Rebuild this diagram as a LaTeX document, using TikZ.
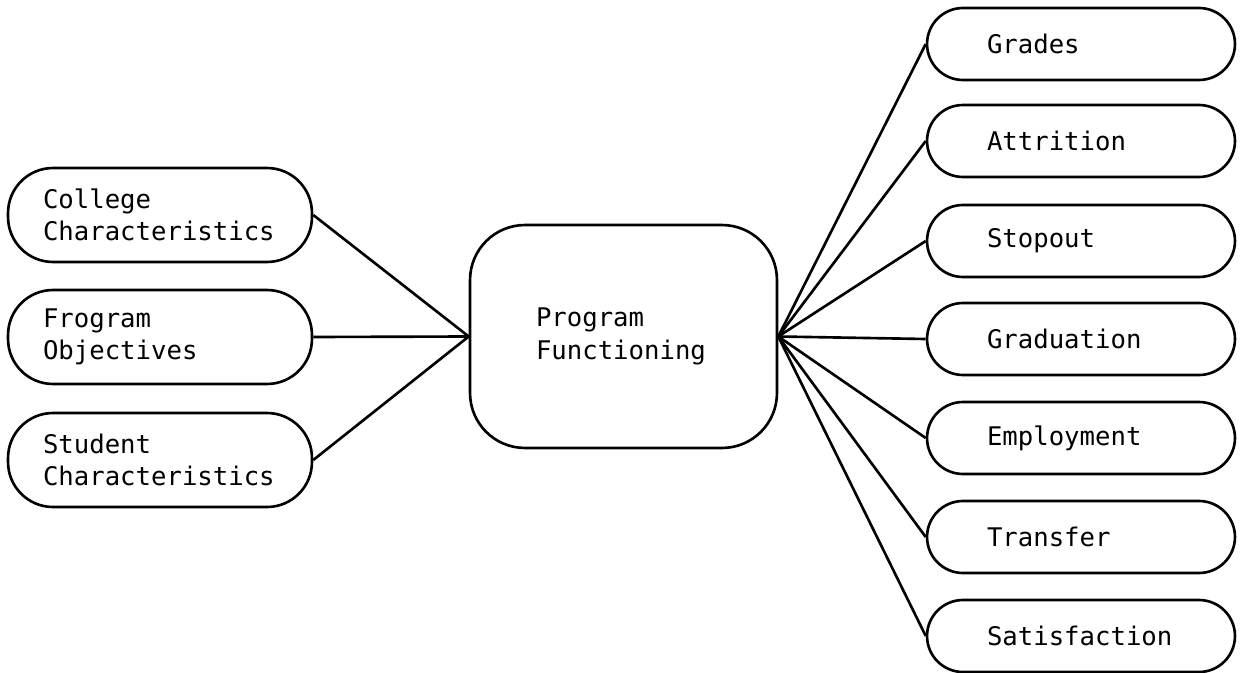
\documentclass[tikz,border=0pt]{standalone}
\usepackage{fontspec}
\newfontfamily\plotfont{DejaVu Sans Mono}
\usetikzlibrary{positioning}

\begin{document}
\begin{tikzpicture}[x=0.02cm, y=-0.02cm,
    every node/.style={font=\plotfont\fontsize{14.6}{18.5}\selectfont},
    inbox/.style={draw, line width=1.5pt, rounded corners=0.9cm, align=left,
        text width=4.68cm, inner xsep=0.7cm, minimum height=1.88cm},
    hubbox/.style={draw, line width=1.5pt, rounded corners=1.1cm, align=left,
        text width=3.5cm, inner xsep=1.32cm, minimum height=4.46cm},
    outbox/.style={draw, line width=1.5pt, rounded corners=0.72cm, align=left,
        text width=3.76cm, inner xsep=1.2cm, minimum height=1.44cm},
    link/.style={line width=1.5pt}]
            \useasboundingbox (0,0) rectangle (1246,672);
            % Inputs
            \node[inbox] (college) at (160,215) {College\\Characteristics};
            \node[inbox] (objectives) at (160,337) {Frogram\\Objectives};
            \node[inbox] (student) at (160,460) {Student\\Characteristics};

            % Program
            \node[hubbox] (program) at (623.5,336.5) {Program\\Functioning};

            % Outcomes
            \node[outbox] (grades) at (1081,44) {Grades};
            \node[outbox] (attrition) at (1081,141) {Attrition};
            \node[outbox] (stopout) at (1081,241) {Stopout};
            \node[outbox] (graduation) at (1081,339) {Graduation};
            \node[outbox] (employment) at (1081,438) {Employment};
            \node[outbox] (transfer) at (1081,537) {Transfer};
            \node[outbox] (satisfaction) at (1081,636) {Satisfaction};

            \draw[link] (college.east) -- (program.west);
            \draw[link] (objectives.east) -- (program.west);
            \draw[link] (student.east) -- (program.west);

            \draw[link] (program.east) -- (grades.west);
            \draw[link] (program.east) -- (attrition.west);
            \draw[link] (program.east) -- (stopout.west);
            \draw[link] (program.east) -- (graduation.west);
            \draw[link] (program.east) -- (employment.west);
            \draw[link] (program.east) -- (transfer.west);
            \draw[link] (program.east) -- (satisfaction.west);
        \end{tikzpicture}
\end{document}
